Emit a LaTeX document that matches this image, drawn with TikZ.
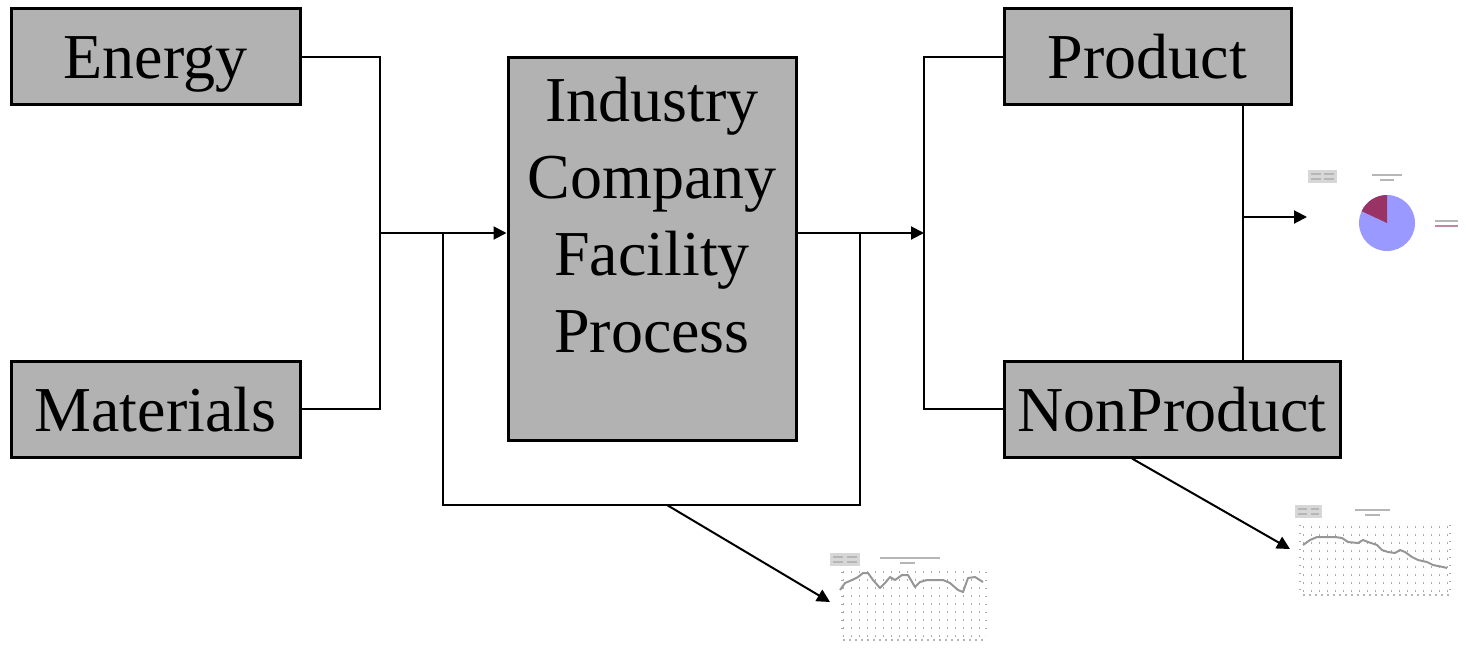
\documentclass[tikz,border=0pt]{standalone}
\usepackage{fontspec}
\setmainfont{Liberation Serif}
\usetikzlibrary{arrows.meta}
\definecolor{boxgray}{RGB}{178,178,178}
\definecolor{piefill}{RGB}{153,153,255}
\definecolor{pieslice}{RGB}{153,51,102}
\definecolor{chartgray}{RGB}{150,150,150}
\definecolor{legendgray}{RGB}{215,215,215}
\tikzset{
  box/.style={draw=black, line width=1.5pt, fill=boxgray, inner sep=0pt,
    text height=28.8pt, text depth=6.4pt, font=\fontsize{32}{38.5}\selectfont},
  flow/.style={line width=1pt},
  arr/.style={flow, -{Triangle[length=6.5pt,width=6.5pt]}},
  griddots/.style={chartgray!80, line width=0.6pt, dash pattern=on 0.6pt off 3.4pt},
  series/.style={chartgray, line width=1pt, line join=round},
  tinytext/.style={chartgray!70, line width=1pt}
}
\begin{document}
\begin{tikzpicture}[x=0.5pt,y=0.5pt,yscale=-1,xscale=1]
\useasboundingbox (0,0) rectangle (1466,649);

% boxes
\node [box, minimum width=144.5pt, minimum height=48pt] (energy) at (155.5,56.5) {Energy};
\node [box, minimum width=144.5pt, minimum height=48pt] (materials) at (155.5,409) {Materials};
\node [box, minimum width=144pt, minimum height=191.5pt] (proc) at (652,248.5) {};
\node [align=center, font=\fontsize{32}{38.5}\selectfont] (proclabel) at (652,215)
  {Industry\\Company\\Facility\\Process};
\node [box, minimum width=143.5pt, minimum height=48pt] (product) at (1147.5,56.5) {Product};
\node [box, minimum width=168pt, minimum height=48pt] (nonproduct) at (1172,409) {NonProduct};

% junctions
\coordinate (jin) at (380,233);
\coordinate (fbin) at (443,233);
\coordinate (fbout) at (860,233);
\coordinate (fbbot) at (667,505);
\coordinate (jout) at (924,233);
\coordinate (pjoin) at (1243,217);
\coordinate (piein) at (1307,217);
\coordinate (loopin) at (830,602);
\coordinate (npin) at (1290,549);

% connectors
\draw [flow] (energy.east) -| (jin) |- (materials.east);
\draw [arr] (jin) -- (jin -| proc.west);
\draw [flow] (fbin) -- (fbin |- fbbot) -- (fbbot -| fbout) -- (fbout);
\draw [arr] (fbbot) -- (loopin);
\draw [arr] (proc.east |- jout) -- (jout);
\draw [flow] (product.west) -| (jout) |- (nonproduct.west);
\draw [flow] (product.south -| pjoin) -- (nonproduct.north -| pjoin);
\draw [arr] (pjoin) -- (piein);
\draw [arr] (nonproduct.south -| 1132,0) -- (npin);

% pie chart
\fill [legendgray] (1308,170) rectangle (1337,183);
\draw [tinytext] (1311,174) -- (1321,174) (1324,174) -- (1334,174) (1311,179) -- (1321,179) (1324,179) -- (1334,179);
\draw [tinytext] (1372,175) -- (1402,175) (1380,180) -- (1394,180);
\fill [piefill] (1387,223) circle [radius=28];
\fill [pieslice] (1387,223) -- (1387,195) arc [start angle=-90, end angle=-155, radius=28] -- cycle;
\draw [tinytext] (1435,221) -- (1458,221);
\draw [pieslice!60, line width=1pt] (1435,226) -- (1458,226);

% line chart below the loop
\fill [legendgray] (830,553) rectangle (860,566);
\draw [tinytext] (833,557) -- (843,557) (847,557) -- (857,557) (833,562) -- (843,562) (847,562) -- (857,562);
\draw [tinytext] (880,558) -- (940,558) (900,563) -- (915,563);
\foreach \y in {572,580,...,636} \draw [griddots] (843,\y) -- (986,\y);
\draw [griddots] (842,572) -- (842,636);
\draw [griddots] (986,572) -- (986,636);
\draw [tinytext, dash pattern=on 1pt off 2pt] (843,640) -- (986,640);
\draw [series] (840,590) -- (845,583) -- (852,580) -- (858,577) -- (863,573) -- (868,573)
  -- (873,580) -- (880,588) -- (885,583) -- (890,577) -- (895,580) -- (902,575) -- (908,575)
  -- (915,587) -- (920,582) -- (927,580) -- (943,580) -- (950,583) -- (958,590) -- (963,592)
  -- (968,578) -- (975,577) -- (983,582);

% line chart for non product
\fill [legendgray] (1295,505) rectangle (1322,518);
\draw [tinytext] (1298,509) -- (1307,509) (1311,509) -- (1319,509) (1298,514) -- (1307,514) (1311,514) -- (1319,514);
\draw [tinytext] (1355,510) -- (1390,510) (1365,515) -- (1380,515);
\foreach \y in {527,535,...,591} \draw [griddots] (1303,\y) -- (1450,\y);
\draw [griddots] (1300,525) -- (1300,591);
\draw [griddots] (1450,525) -- (1450,591);
\draw [tinytext, dash pattern=on 1pt off 2pt] (1303,595) -- (1450,595);
\draw [series] (1303,545) -- (1310,540) -- (1317,537) -- (1325,537) -- (1335,537) -- (1342,538)
  -- (1348,542) -- (1358,543) -- (1363,540) -- (1368,542) -- (1377,545) -- (1382,550)
  -- (1388,552) -- (1395,553) -- (1400,550) -- (1405,552) -- (1412,557) -- (1418,560)
  -- (1427,562) -- (1433,565) -- (1443,567) -- (1447,568);

\end{tikzpicture}
\end{document}
